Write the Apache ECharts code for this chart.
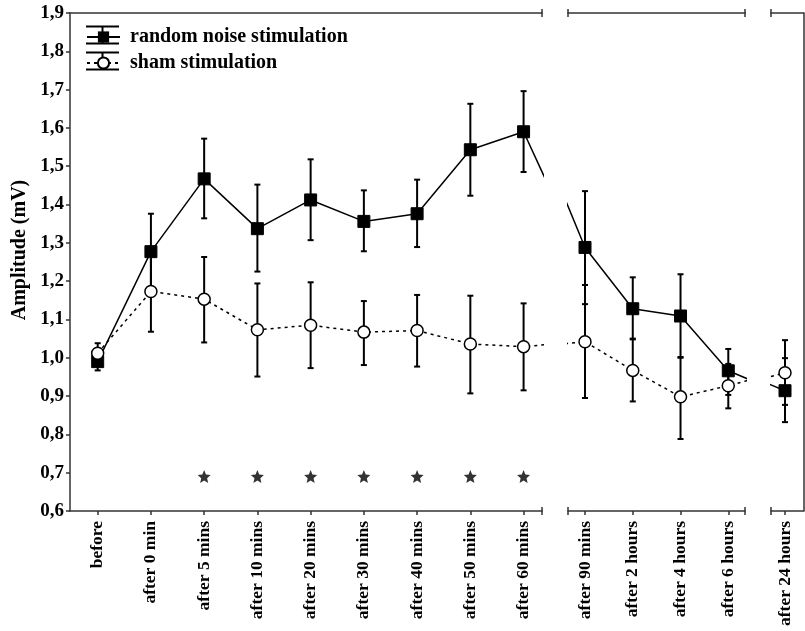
<!DOCTYPE html>
<html>
<head>
<meta charset="utf-8">
<script src="https://cdn.jsdelivr.net/npm/echarts@6/dist/echarts.min.js"></script>
<style>
 html,body{margin:0;padding:0;background:#fff;}
 #main{width:805px;height:631px;}
</style>
</head>
<body>
<div id="main"></div>
<script>
var labels = ["before","after 0 min","after 5 mins","after 10 mins","after 20 mins","after 30 mins","after 40 mins","after 50 mins","after 60 mins","after 90 mins","after 2 hours","after 4 hours","after 6 hours","after 24 hours"];
var random   = [0.990,1.277,1.467,1.337,1.412,1.356,1.376,1.543,1.590,1.288,1.128,1.109,0.966,0.914];
var randomHi = [1.015,1.376,1.572,1.452,1.518,1.437,1.465,1.663,1.696,1.435,1.210,1.218,1.023,0.999];
var randomLo = [0.967,1.180,1.364,1.225,1.307,1.278,1.289,1.423,1.485,1.140,1.048,1.002,0.903,0.832];
var sham     = [1.012,1.173,1.153,1.073,1.085,1.067,1.071,1.036,1.029,1.042,0.967,0.898,0.927,0.961];
var shamHi   = [1.038,1.270,1.263,1.194,1.197,1.148,1.164,1.162,1.142,1.190,1.050,1.000,0.984,1.046];
var shamLo   = [0.995,1.068,1.040,0.951,0.973,0.981,0.977,0.907,0.915,0.895,0.886,0.788,0.868,0.877];
var sigIdx = [2,3,4,5,6,7,8];
var sigY = 0.69;

// panels of the broken time axis: which points, and x range of each
var panels = [
 {idx:[0,1,2,3,4,5,6,7,8], min:-0.52, max:8.346, left:70, width:472},
 {idx:[9,10,11,12], min:8.644, max:12.35, left:568, width:177},
 {idx:[13], min:12.707, max:13.387, left:771, width:32.5}
];

var FONT = "Liberation Serif";
var chart = echarts.init(document.getElementById("main"));

// asterisk shape for the significance marks
var star = "path://";
for(var a=0;a<10;a++){
 var r = a%2==0 ? 1 : 0.45;
 var ang = -Math.PI/2 + a*Math.PI/5;
 star += (a==0?"M":"L") + (r*Math.cos(ang)).toFixed(3) + " " + (r*Math.sin(ang)).toFixed(3) + " ";
}
star += "Z";

function renderErr(params, api){
 var x = api.value(0);
 var lo = api.coord([x, api.value(1)]);
 var hi = api.coord([x, api.value(2)]);
 var w = 3;
 var st = {stroke:"#000", lineWidth:2};
 return {type:"group", children:[
  {type:"line", shape:{x1:hi[0],y1:hi[1],x2:lo[0],y2:lo[1]}, style:st},
  {type:"line", shape:{x1:hi[0]-w,y1:hi[1],x2:hi[0]+w,y2:hi[1]}, style:st},
  {type:"line", shape:{x1:lo[0]-w,y1:lo[1],x2:lo[0]+w,y2:lo[1]}, style:st}
 ]};
}

var grids = [], xAxes = [], yAxes = [], series = [];
panels.forEach(function(p, k){
 grids.push({left:p.left, top:13, width:p.width, height:498});
 xAxes.push({
  type:"value", gridIndex:k, min:p.min, max:p.max, position:"bottom",
  splitLine:{show:false},
  axisLine:{onZero:false, lineStyle:{color:"#333", width:1.5}},
  axisTick:{length:4, customValues:p.idx, lineStyle:{color:"#333", width:1.5}},
  axisLabel:{customValues:p.idx, rotate:90, margin:10, color:"#000",
   fontFamily:FONT, fontWeight:"bold", fontSize:17.5,
   formatter:function(v){ return labels[Math.round(v)]; }}
 });
 xAxes.push({
  type:"value", gridIndex:k, min:p.min, max:p.max, position:"top",
  splitLine:{show:false}, axisTick:{show:false}, axisLabel:{show:false},
  axisLine:{show:true, onZero:false, lineStyle:{color:"#333", width:1.5}}
 });
 yAxes.push({
  type:"value", gridIndex:k, min:0.6, max:1.9, interval:0.1,
  position: k==2 ? "right" : "left",
  splitLine:{show:false},
  axisLine:{show:k!=1, onZero:false, lineStyle:{color:"#333", width:1.5}},
  axisTick:{show:k==0, length:4, lineStyle:{color:"#333", width:1.5}},
  axisLabel:{show:k==0, margin:6, color:"#000", fontFamily:FONT, fontWeight:"bold", fontSize:19,
   formatter:function(v){ return v.toFixed(1).replace(".", ","); }},
  name: k==0 ? "Amplitude (mV)" : "",
  nameLocation:"middle", nameGap:38,
  nameTextStyle:{color:"#000", fontFamily:FONT, fontWeight:"bold", fontSize:20, padding:[0,0,0,24]}
 });

 // line data includes the neighbours outside the panel so the line runs to the break
 var first = p.idx[0], last = p.idx[p.idx.length-1];
 var from = Math.max(0, first-1), to = Math.min(labels.length-1, last+1);
 var rLine = [], sLine = [], rErr = [], sErr = [];
 for(var i=from;i<=to;i++){
  var inside = i>=first && i<=last;
  rLine.push({value:[i, random[i]], symbol: inside ? "rect" : "none"});
  sLine.push({value:[i, sham[i]], symbol: inside ? "circle" : "none"});
  if(inside){
   rErr.push([i, randomLo[i], randomHi[i]]);
   sErr.push([i, shamLo[i], shamHi[i]]);
  }
 }
 series.push({type:"custom", xAxisIndex:k*2, yAxisIndex:k, renderItem:renderErr, data:rErr, z:2, encode:{x:0, y:[1,2]}, silent:true});
 series.push({type:"custom", xAxisIndex:k*2, yAxisIndex:k, renderItem:renderErr, data:sErr, z:2, encode:{x:0, y:[1,2]}, silent:true});
 series.push({
  name:"random noise stimulation", type:"line", xAxisIndex:k*2, yAxisIndex:k, data:rLine,
  symbol:"rect", symbolSize:12, clip:true, z:3,
  lineStyle:{color:"#000", width:1.5}, itemStyle:{color:"#000", borderColor:"#000"}
 });
 series.push({
  name:"sham stimulation", type:"line", xAxisIndex:k*2, yAxisIndex:k, data:sLine,
  symbol:"circle", symbolSize:12, clip:true, z:4,
  lineStyle:{color:"#000", width:1.5, type:[3,4]},
  itemStyle:{color:"#fff", borderColor:"#000", borderWidth:1.5}
 });
});

series.push({
 type:"scatter", xAxisIndex:0, yAxisIndex:0, symbol:star, symbolSize:13,
 itemStyle:{color:"#000"}, silent:true,
 data: sigIdx.map(function(i){ return [i, sigY]; })
});

// break caps on the axes and error-bar caps of the legend icons
var caps = [];
function vcap(x, y){ caps.push({type:"line", shape:{x1:x,y1:y-4,x2:x,y2:y+4}, style:{stroke:"#333", lineWidth:1.5}}); }
[542, 568, 745, 771].forEach(function(x){ vcap(x, 13); vcap(x, 511); });
[35, 61].forEach(function(c){
 var st = {stroke:"#000", lineWidth:2};
 caps.push({type:"line", z:-1, shape:{x1:86,y1:c-8.5,x2:119,y2:c-8.5}, style:st});
 caps.push({type:"line", z:-1, shape:{x1:86,y1:c+8.5,x2:119,y2:c+8.5}, style:st});
 caps.push({type:"line", z:-1, shape:{x1:102.5,y1:c-8.5,x2:102.5,y2:c+8.5}, style:st});
});

var option = {
 animation:false,
 grid:grids,
 xAxis:xAxes,
 yAxis:yAxes,
 legend:{
  left:86, top:27, padding:0, orient:"vertical", itemWidth:33, itemHeight:14, itemGap:6,
  data:["random noise stimulation","sham stimulation"],
  textStyle:{color:"#000", fontFamily:FONT, fontWeight:"bold", fontSize:20, padding:[3,0,0,5]}
 },
 graphic:caps,
 series:series
};
chart.setOption(option);
</script>
</body>
</html>
